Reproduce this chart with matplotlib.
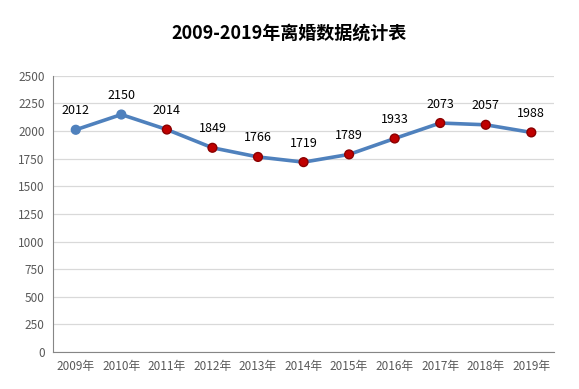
import matplotlib.pyplot as plt
import numpy as np

plt.rcParams['font.family'] = ['Noto Sans CJK SC', 'DejaVu Sans']

years = ['2009年', '2010年', '2011年', '2012年', '2013年', '2014年',
         '2015年', '2016年', '2017年', '2018年', '2019年']
divorces = [2012, 2150, 2014, 1849, 1766, 1719, 1789, 1933, 2073, 2057, 1988]
yticks = [0, 250, 500, 750, 1000, 1250, 1500, 1750, 2000, 2250, 2500]

fig = plt.figure(figsize=(5.79, 3.89), dpi=100)
ax = fig.add_axes([0.0915, 0.095, 0.8655, 0.71])

x = np.arange(len(years))
line_c = '#4f81bd'
ax.plot(x, divorces, color=line_c, lw=2.6, zorder=3)
face = [line_c if i < 2 else '#c00000' for i in range(len(x))]
edge = [line_c if i < 2 else '#8b0000' for i in range(len(x))]
ax.scatter(x, divorces, s=40, c=face, edgecolors=edge, linewidths=1, zorder=4)

for xi, v in zip(x, divorces):
    ax.annotate(str(v), (xi, v), xytext=(0, 9), textcoords='offset points',
                ha='center', va='bottom', fontsize=9, color='black')

ax.set_xlim(-0.5, len(years) - 0.5)
ax.set_ylim(0, 2500)
ax.set_yticks(yticks)
ax.set_xticks(x)
ax.set_xticklabels(years)
ax.tick_params(axis='both', length=0, labelsize=8.5, colors='#595959', pad=6)
ax.grid(axis='y', color='#d9d9d9', lw=0.9)
ax.set_axisbelow(True)
for s in ['top', 'right']:
    ax.spines[s].set_visible(False)
for s in ['left', 'bottom']:
    ax.spines[s].set_color('#868686')

fig.text(0.5, 0.915, '2009-2019年离婚数据统计表', ha='center', va='center',
         fontsize=13, fontweight='bold', color='black')

fig.savefig('out.png', dpi=100)
